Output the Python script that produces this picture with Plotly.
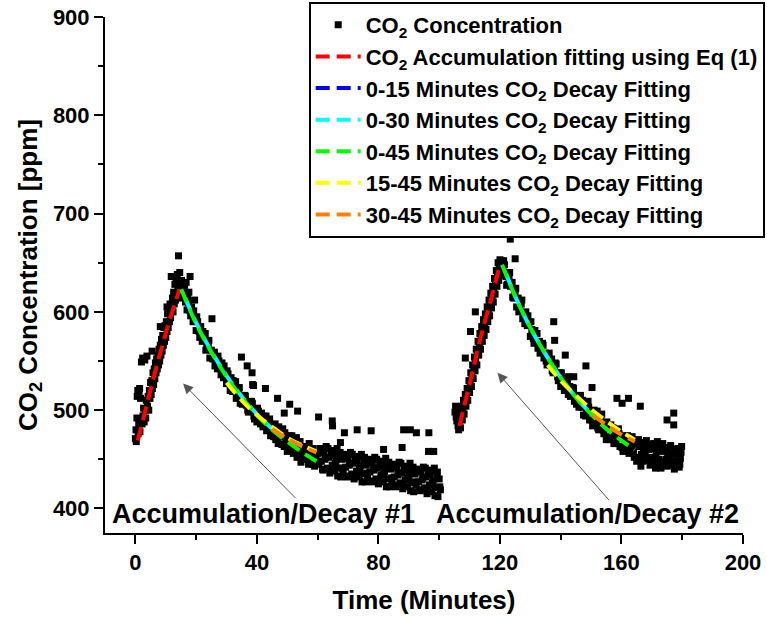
import plotly.graph_objects as go

FONT = "Liberation Sans, Arial, sans-serif"

# ---------------- measured CO2 readings: (time [min], concentration [ppm]) ----------------
run1_rise = [
    (0.0, 471), (0.2, 480), (0.3, 468), (0.5, 492), (0.6, 514), (0.8, 520), (0.9, 476),
    (1.1, 486), (1.2, 517), (1.4, 522), (1.5, 478), (1.7, 512), (1.9, 490), (2.0, 549),
    (2.2, 486), (2.4, 553), (2.5, 494), (2.7, 502), (2.9, 488), (3.1, 551), (3.2, 500),
    (3.4, 492), (3.6, 510), (3.8, 555), (4.0, 504), (4.2, 514), (4.4, 500), (4.6, 520),
    (4.8, 512), (5.0, 528), (5.2, 516), (5.4, 530), (5.5, 560), (5.6, 522), (5.8, 538),
    (6.0, 526), (6.2, 542), (6.4, 532), (6.6, 548), (6.8, 538), (7.0, 552), (7.2, 542),
    (7.4, 556), (7.6, 546), (7.8, 562), (8.0, 550), (8.2, 566), (8.2, 585), (8.4, 556),
    (8.6, 572), (8.8, 560), (9.0, 576), (9.2, 566), (9.4, 584), (9.6, 570), (9.8, 586),
    (10.0, 574), (10.2, 590), (10.4, 580), (10.4, 605), (10.6, 598), (10.8, 584), (11.0, 600),
    (11.2, 590), (11.4, 608), (11.6, 594), (11.8, 636), (12.0, 604), (12.0, 636), (12.2, 614),
    (12.4, 600), (12.6, 620), (12.8, 608), (13.0, 628), (13.2, 612), (13.4, 632), (13.6, 618),
    (13.8, 638), (14.0, 624), (14.2, 657), (14.4, 630), (14.6, 640), (14.8, 614),
]

run1_decay = [
    (15.0, 625), (15.2, 632), (15.5, 615), (16.0, 621), (16.2, 627), (16.5, 610), (16.7, 630),
    (17.0, 602), (17.2, 614), (17.5, 609), (17.6, 620), (18.0, 601), (18.0, 636), (18.2, 596),
    (18.5, 605), (19.0, 590), (19.2, 601), (19.5, 593), (19.5, 612), (20.0, 581), (20.2, 595),
    (20.5, 590), (21.0, 580), (21.2, 574), (21.5, 585), (22.0, 570), (22.2, 580), (22.5, 574),
    (23.0, 578), (23.2, 561), (23.5, 564), (24.0, 567), (24.2, 571), (24.5, 553), (25.0, 561),
    (25.2, 593), (25.5, 552), (26.0, 559), (26.2, 545), (26.5, 549), (27.0, 542), (27.2, 555),
    (27.5, 550), (28.0, 543), (28.2, 536), (28.5, 548), (29.0, 533), (29.2, 545), (29.5, 538),
    (30.0, 527), (30.2, 540), (30.5, 537), (31.0, 527), (31.2, 520), (31.5, 533), (32.0, 519),
    (32.2, 530), (32.5, 524), (33.0, 529), (33.2, 512), (33.5, 516), (34.0, 520), (34.2, 523),
    (34.5, 507), (35.0, 515), (35.2, 506), (35.5, 507), (36.0, 515), (36.2, 514), (36.5, 505),
    (37.0, 500), (37.2, 498), (37.5, 508), (38.0, 502), (38.2, 509), (38.5, 507), (39.0, 494),
    (39.2, 491), (39.5, 499), (40.0, 488), (40.2, 502), (40.5, 499), (41.0, 490), (41.2, 486),
    (41.5, 497), (42.0, 483), (42.2, 494), (42.5, 489), (43.0, 494), (43.2, 479), (43.5, 482),
    (44.0, 486), (44.2, 491), (44.5, 474), (45.0, 484), (45.2, 476), (45.5, 473), (46.0, 486),
    (46.2, 470), (46.5, 474), (47.0, 466), (47.2, 483), (47.5, 480), (48.0, 473), (48.2, 465),
    (48.5, 481), (49.0, 463), (49.2, 477), (49.5, 471), (50.0, 458), (50.2, 466), (50.5, 474),
    (51.0, 463), (51.2, 470), (51.5, 474), (52.0, 456), (52.2, 468), (52.5, 463), (53.0, 472),
    (53.2, 452), (53.5, 456), (54.0, 463), (54.2, 468), (54.5, 447), (55.0, 460), (55.2, 454),
    (55.5, 450), (56.0, 463), (56.2, 458), (56.5, 452), (57.0, 445), (57.2, 466), (57.5, 459),
    (58.0, 452), (58.2, 445), (58.5, 461), (59.0, 443), (59.2, 457), (59.5, 451),
    (60.0, 456), (60.2, 448), (60.4, 445), (60.8, 461), (61.0, 460), (61.2, 448), (61.6, 440),
    (61.8, 439), (62.0, 457), (62.4, 450), (62.6, 452), (62.8, 463), (63.2, 441), (63.4, 461),
    (63.6, 452), (64.0, 436), (64.2, 440), (64.4, 457), (64.8, 444), (65.0, 454), (65.2, 459),
    (65.6, 438), (65.8, 446), (66.0, 448), (66.4, 461), (66.6, 433), (66.8, 441), (67.2, 452),
    (67.4, 457), (67.6, 432), (68.0, 450), (68.2, 441), (68.4, 438), (68.8, 455), (69.0, 454),
    (69.2, 442), (69.6, 433), (69.8, 432), (70.0, 451), (70.4, 444), (70.6, 446), (70.8, 457),
    (71.2, 435), (71.4, 455), (71.6, 446), (72.0, 430), (72.2, 434), (72.4, 451), (72.8, 438),
    (73.0, 448), (73.2, 453), (73.6, 432), (73.8, 441), (74.0, 443), (74.4, 455), (74.6, 427),
    (74.8, 435), (75.2, 447), (75.4, 452), (75.6, 427), (76.0, 444), (76.2, 436), (76.4, 433),
    (76.8, 450), (77.0, 449), (77.2, 437), (77.6, 428), (77.8, 427), (78.0, 446), (78.4, 439),
    (78.6, 441), (78.8, 452), (79.2, 430), (79.4, 450), (79.6, 441), (80.0, 425), (80.2, 429),
    (80.4, 446), (80.8, 434), (81.0, 443), (81.2, 448), (81.6, 427), (81.8, 436), (82.0, 438),
    (82.4, 451), (82.6, 422), (82.8, 430), (83.2, 442), (83.4, 447), (83.6, 422), (84.0, 440),
    (84.2, 431), (84.4, 428), (84.8, 445), (85.0, 444), (85.2, 432), (85.6, 424), (85.8, 422),
    (86.0, 441), (86.4, 434), (86.6, 436), (86.8, 447), (87.2, 426), (87.4, 446), (87.6, 436),
    (88.0, 420), (88.2, 424), (88.4, 441), (88.8, 429), (89.0, 439), (89.2, 443), (89.6, 422),
    (89.8, 431), (90.0, 433), (90.4, 446), (90.6, 418), (90.8, 426), (91.2, 437), (91.4, 442),
    (91.6, 417), (92.0, 435), (92.2, 427), (92.4, 424), (92.8, 440), (93.0, 439), (93.2, 427),
    (93.6, 419), (93.8, 418), (94.0, 437), (94.4, 429), (94.6, 431), (94.8, 442), (95.2, 421),
    (95.4, 441), (95.6, 432), (96.0, 415), (96.2, 419), (96.4, 436), (96.8, 424), (97.0, 434),
    (97.2, 439), (97.6, 417), (97.8, 426), (98.0, 428), (98.4, 441), (98.6, 413), (98.8, 421),
    (99.2, 433), (99.4, 437), (99.6, 412), (100.0, 430), (100.2, 422), (100.4, 419),
]

run1_outliers = [
    (34.9, 554), (36.8, 545), (38.4, 538), (38.6, 526), (38.9, 525), (42.8, 522), (46.8, 512),
    (50.8, 506), (49.0, 497), (53.4, 499), (60.3, 493), (64.8, 489), (64.9, 484), (67.5, 467),
    (68.8, 477), (73.0, 480), (77.6, 479), (81.7, 460), (87.8, 462), (88.3, 480), (90.5, 480),
    (92.5, 477), (96.5, 458), (96.6, 477), (98.2, 458),
]

run2_rise = [
    (105.2, 498), (105.4, 504), (105.6, 493), (105.8, 489), (106.0, 501), (106.2, 484),
    (106.4, 480), (106.6, 495), (106.8, 490), (107.0, 482), (107.2, 496), (107.4, 504),
    (107.6, 490), (107.8, 500), (108.0, 510), (108.2, 496), (108.4, 506), (108.6, 516),
    (108.6, 553), (108.8, 504), (109.0, 514), (109.2, 522), (109.4, 510), (109.6, 520),
    (109.8, 530), (110.0, 518), (110.2, 528), (110.3, 580), (110.4, 538), (110.6, 524),
    (110.8, 534), (111.0, 546), (111.2, 532), (111.4, 542), (111.6, 554), (111.8, 540),
    (111.9, 600), (112.0, 550), (112.2, 562), (112.4, 546), (112.6, 558), (112.8, 570),
    (113.0, 556), (113.2, 566), (113.4, 578), (113.6, 562), (113.8, 574), (114.0, 585),
    (114.2, 570), (114.4, 580), (114.6, 592), (114.8, 576), (115.0, 588), (115.2, 598),
    (115.4, 582), (115.6, 594), (115.8, 605), (116.0, 590), (116.2, 600), (116.4, 612),
    (116.6, 596), (116.8, 608), (117.0, 619), (117.2, 604), (117.4, 614), (117.6, 626),
    (117.8, 610), (118.0, 622), (118.2, 634), (118.4, 618), (118.6, 630), (118.8, 642),
    (119.0, 626), (119.2, 638), (119.4, 650), (119.6, 632), (119.8, 644), (120.0, 653),
    (120.2, 637), (120.4, 648),
]

run2_decay = [
    (120.5, 652), (120.8, 640), (121.0, 642), (121.2, 652), (121.5, 648), (122.0, 636),
    (122.2, 627), (122.5, 628), (123.0, 634), (123.2, 640), (123.5, 626), (124.0, 630),
    (124.2, 615), (124.5, 614), (125.0, 618), (125.2, 624), (125.5, 605), (126.0, 614),
    (126.2, 600), (126.5, 603), (127.0, 608), (127.2, 612), (127.5, 593), (128.0, 597),
    (128.2, 588), (128.5, 600), (129.0, 586), (129.2, 596), (129.5, 589), (130.0, 575),
    (130.2, 590), (130.5, 582), (131.0, 573), (131.2, 568), (131.5, 581), (132.0, 570),
    (132.2, 578), (132.5, 563), (133.0, 570), (133.2, 558), (133.5, 564), (134.0, 568),
    (134.2, 566), (134.5, 553), (135.0, 558), (135.2, 550), (135.5, 546), (136.0, 556),
    (136.2, 558), (136.5, 546), (137.0, 552), (137.2, 540), (137.5, 538), (138.0, 542),
    (138.2, 548), (138.5, 547), (139.0, 534), (139.2, 530), (139.5, 538), (140.0, 524),
    (140.2, 538), (140.5, 532), (141.0, 524), (141.2, 520), (141.5, 532), (142.0, 522),
    (142.2, 529), (142.5, 516), (143.0, 524), (143.2, 514), (143.5, 518), (144.0, 523),
    (144.2, 522), (144.5, 509), (145.0, 515), (145.2, 506), (145.5, 514), (146.0, 503),
    (146.2, 512), (146.5, 515), (147.0, 503), (147.2, 510), (147.5, 495), (148.0, 508),
    (148.2, 494), (148.5, 500), (149.0, 509), (149.2, 503), (149.5, 490), (150.0, 498),
    (150.2, 490), (150.5, 484), (151.0, 500), (151.2, 494), (151.5, 488), (152.0, 499),
    (152.2, 482), (152.5, 480), (153.0, 488), (153.2, 492), (153.5, 496), (154.0, 480),
    (154.2, 476), (154.5, 487), (155.0, 470), (155.2, 488), (155.5, 483), (156.0, 473),
    (156.2, 470), (156.5, 485), (157.0, 474), (157.2, 482), (157.5, 466), (158.0, 480),
    (158.2, 466), (158.5, 473), (159.0, 481), (159.2, 476), (159.5, 463), (160.0, 471),
    (160.2, 462), (160.5, 458), (161.0, 474), (161.2, 468), (161.5, 463), (162.0, 474),
    (162.2, 458), (162.5, 456), (163.0, 464), (163.2, 469), (163.5, 473), (164.0, 457),
    (164.2, 452), (164.5, 464), (165.0, 448), (165.4, 463), (165.6, 470), (165.8, 452),
    (166.2, 467), (166.4, 443), (166.6, 455), (167.0, 448), (167.2, 461), (167.4, 464),
    (167.8, 457), (168.0, 452), (168.2, 469), (168.6, 449), (168.8, 465), (169.0, 460),
    (169.4, 444), (169.6, 450), (169.8, 464), (170.2, 452), (170.4, 461), (170.6, 466),
    (171.0, 446), (171.2, 441), (171.4, 456), (171.8, 468), (172.0, 463), (172.2, 450),
    (172.6, 459), (172.8, 447), (173.0, 441), (173.4, 458), (173.6, 466), (173.8, 448),
    (174.2, 462), (174.4, 444), (174.6, 450), (175.0, 443), (175.2, 456), (175.4, 459),
    (175.8, 453), (176.0, 447), (176.2, 464), (176.6, 444), (176.8, 460), (177.0, 455),
    (177.4, 440), (177.6, 448), (177.8, 459), (178.2, 447), (178.4, 455), (178.6, 461),
    (179.0, 442), (179.2, 445), (179.4, 451), (179.6, 457), (179.8, 463),
]

run2_outliers = [
    (123.4, 674), (125.0, 654), (137.7, 590), (138.0, 571), (141.5, 556), (142.6, 534),
    (144.3, 534), (148.3, 545), (150.3, 523), (158.5, 512), (160.2, 507), (162.3, 512),
    (166.2, 504), (175.0, 490), (177.2, 497), (177.2, 485),
]

# ---------------- fitted curves: (time [min], concentration [ppm]) ----------------
accumulation_fit = [
    [(0.8, 469), (3.0, 496), (5.0, 521), (7.0, 545), (9.0, 567), (11.0, 589), (13.0, 608), (14.5, 623)],
    [(106.7, 484), (109.0, 514), (111.0, 539), (113.0, 566), (115.0, 590), (117.0, 612), (118.5, 630), (120.1, 649)],
]
decay_fit_0_15 = [
    [(15.6, 620), (17.5, 605), (20.0, 589), (22.5, 573), (25.0, 560), (27.5, 547), (30.0, 536)],
    [(121.2, 645), (123.0, 630), (125.0, 616), (128.0, 595), (130.0, 584), (133.0, 567), (135.7, 553)],
]
decay_fit_0_30 = [
    [(16.4, 614), (20.0, 589), (25.0, 560), (30.0, 535), (35.0, 514), (40.0, 496), (45.0, 481)],
    [(122.0, 639), (125.0, 616), (130.0, 584), (135.0, 557), (140.0, 533), (145.0, 513), (150.7, 494)],
]
decay_fit_0_45 = [
    [(15.1, 623), (20.0, 588), (25.0, 559), (30.0, 534), (35.0, 513), (40.0, 495), (45.0, 480),
     (50.0, 468), (55.0, 457), (59.6, 448)],
    [(120.7, 648), (125.0, 616), (130.0, 584), (135.0, 557), (140.0, 533), (145.0, 513), (150.0, 496),
     (155.0, 481), (160.0, 469), (164.4, 460)],
]
decay_fit_15_45 = [
    [(30.0, 528), (35.0, 510), (40.0, 495), (45.0, 483), (50.0, 472), (55.0, 464), (59.6, 458)],
    [(135.7, 546), (140.0, 530), (145.0, 515), (150.0, 501), (155.0, 489), (160.0, 478), (164.4, 470)],
]
decay_fit_30_45 = [
    [(45.0, 481), (50.0, 471), (55.0, 463), (59.6, 457)],
    [(150.7, 495), (155.0, 485), (160.0, 475), (164.4, 468)],
]

fit_series = [
    ("CO<sub>2</sub> Accumulation fitting using Eq (1)", accumulation_fit, "#FF0000"),
    ("0-15 Minutes CO<sub>2</sub> Decay Fitting", decay_fit_0_15, "#0000FF"),
    ("0-30 Minutes CO<sub>2</sub> Decay Fitting", decay_fit_0_30, "#00FFFF"),
    ("0-45 Minutes CO<sub>2</sub> Decay Fitting", decay_fit_0_45, "#00FF00"),
    ("15-45 Minutes CO<sub>2</sub> Decay Fitting", decay_fit_15_45, "#FFFF00"),
    ("30-45 Minutes CO<sub>2</sub> Decay Fitting", decay_fit_30_45, "#FF8000"),
]

# ---------------- annotations ----------------
event_labels = [("Accumulation/Decay #1", 42.1, 394), ("Accumulation/Decay #2", 148.8, 394)]
event_arrows = [((53.2, 409), (15.7, 527)), ((156.3, 407), (119.2, 538))]


def split_xy(segments):
    xs, ys = [], []
    for k, seg in enumerate(segments):
        if k:
            xs.append(None)
            ys.append(None)
        xs.extend(p[0] for p in seg)
        ys.extend(p[1] for p in seg)
    return xs, ys


measured = [run1_rise, run1_decay, run1_outliers, run2_rise, run2_decay, run2_outliers]
mx = [p[0] for seg in measured for p in seg]
my = [p[1] for seg in measured for p in seg]

fig = go.Figure()
fig.add_trace(go.Scatter(
    x=mx, y=my, mode="markers", name="CO<sub>2</sub> Concentration",
    marker=dict(symbol="square", size=7, color="black", line=dict(width=0)),
))

for name, segments, color in fit_series:
    xs, ys = split_xy(segments)
    fig.add_trace(go.Scatter(
        x=xs, y=ys, mode="lines", name=name, connectgaps=False,
        line=dict(color=color, width=4, dash="14px,7px", shape="spline"),
    ))

annotations = []
for text, x, y in event_labels:
    annotations.append(dict(
        x=x, y=y, xref="x", yref="y", text=text, showarrow=False,
        font=dict(family=FONT, size=27, color="black", weight="bold"),
    ))
for (tx, ty), (hx, hy) in event_arrows:
    annotations.append(dict(
        x=hx, y=hy, ax=tx, ay=ty, xref="x", yref="y", axref="x", ayref="y",
        text="", showarrow=True, arrowhead=2, arrowsize=2, arrowwidth=1,
        arrowcolor="#555555",
    ))

axis_common = dict(
    showline=True, linecolor="black", linewidth=2, mirror=False,
    ticks="outside", ticklen=9, tickwidth=2, tickcolor="black",
    showgrid=False, zeroline=False, automargin=False,
    tickfont=dict(family=FONT, size=22, color="black", weight="bold"),
)

fig.update_layout(
    width=767, height=623,
    margin=dict(l=105, r=24, t=17, b=90, autoexpand=False),
    paper_bgcolor="white", plot_bgcolor="white",
    font=dict(family=FONT, color="black"),
    xaxis=dict(
        range=[-10, 200], dtick=40, tick0=0,
        minor=dict(ticks="outside", ticklen=5, tickwidth=2, tickcolor="black", dtick=20),
        title=dict(text="Time (Minutes)", standoff=16,
                   font=dict(family=FONT, size=26, color="black", weight="bold")),
        **axis_common,
    ),
    yaxis=dict(
        range=[375, 900], dtick=100, tick0=0,
        minor=dict(ticks="outside", ticklen=5, tickwidth=2, tickcolor="black", dtick=50),
        title=dict(text="CO<sub>2</sub> Concentration [ppm]", standoff=8,
                   font=dict(family=FONT, size=26, color="black", weight="bold")),
        **axis_common,
    ),
    legend=dict(
        x=1.034, y=1.029, xanchor="right", yanchor="top",
        bgcolor="white", bordercolor="black", borderwidth=2,
        font=dict(family=FONT, size=22, color="black", weight="bold"),
        itemsizing="trace", itemwidth=45,
    ),
    annotations=annotations,
    showlegend=True,
)

fig.write_html("out.html")
